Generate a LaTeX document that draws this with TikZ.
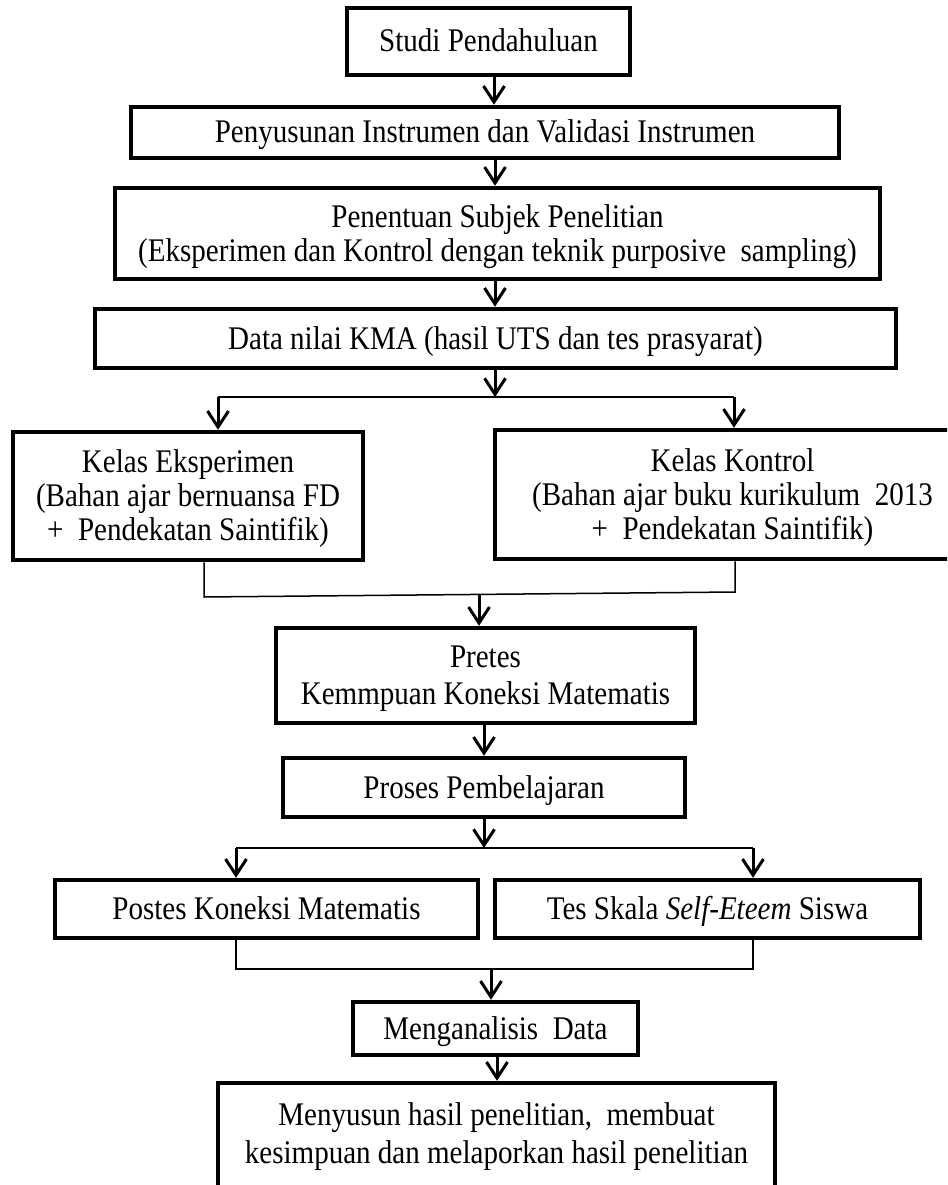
\documentclass[tikz,border=0pt]{standalone}
\usepackage{fontspec}
\setmainfont{Liberation Serif}[FakeStretch=0.88]
\usetikzlibrary{arrows.meta}
\newcommand\topstrut{\rule{0pt}{29pt}}
\newcommand\botstrut{\rule[-8pt]{0pt}{8pt}}
\newcommand\deepstrut{\rule[-32pt]{0pt}{32pt}}
\begin{document}
\begin{tikzpicture}[x=1pt,y=-1pt,
  box/.style={draw, line width=4.5pt, inner sep=0pt, align=center,
              font=\fontsize{33}{34}\selectfont},
  arr/.style={line width=3pt, -{Straight Barb[length=16pt,width=21pt,line width=3pt]}},
  thinline/.style={line width=1.5pt}]
\useasboundingbox (0,0) rectangle (947,1185);
\clip (0,0) rectangle (947,1185);

\node[box, minimum width=283pt, minimum height=67pt] (studi) at (488.5,41.5) {\topstrut Studi Pendahuluan\botstrut};
\node[box, minimum width=708pt, minimum height=51pt] (penyus) at (485,132.5) {\topstrut Penyusunan Instrumen dan Validasi Instrumen\botstrut};
\node[box, minimum width=765pt, minimum height=91pt] (penent) at (497.5,233.5) {\topstrut Penentuan Subjek Penelitian\\(Eksperimen dan Kontrol dengan teknik purposive\ \ sampling)\botstrut};
\node[box, minimum width=801pt, minimum height=59pt] (data) at (495.5,338.5) {\topstrut Data nilai KMA (hasil UTS dan tes prasyarat)\botstrut};
\node[box, minimum width=350pt, minimum height=128pt] (eksp) at (188,496) {\topstrut Kelas Eksperimen\\(Bahan ajar bernuansa FD\\+\ \ Pendekatan Saintifik)\botstrut};
\node[box, minimum width=475pt, minimum height=129pt] (kontrol) at (732.5,494.5) {\topstrut Kelas Kontrol\\(Bahan ajar buku kurikulum\ \ 2013\\+\ \ Pendekatan Saintifik)\botstrut};
\node[box, minimum width=419pt, minimum height=95pt, font=\fontsize{33}{37}\selectfont] (pretes) at (485.5,675.5) {\topstrut Pretes\\Kemmpuan Koneksi Matematis\botstrut};
\node[box, minimum width=402pt, minimum height=59pt] (proses) at (484,787.5) {\topstrut Proses Pembelajaran\botstrut};
\node[box, minimum width=423pt, minimum height=58pt] (postes) at (266.5,909) {\topstrut Postes Koneksi Matematis\botstrut};
\node[box, minimum width=425pt, minimum height=58pt] (tes) at (707.5,909) {\topstrut Tes Skala \textit{Self-Eteem} Siswa\botstrut};
\node[box, minimum width=285pt, minimum height=53pt] (mengan) at (495.5,1028.5) {\topstrut Menganalisis\ \ Data\botstrut};
\node[box, minimum width=557pt, minimum height=125pt, font=\fontsize{33}{38}\selectfont] (menyus) at (496.5,1145.5) {\topstrut Menyusun hasil penelitian,\ \ membuat\\kesimpuan dan melaporkan hasil penelitian\deepstrut};

% columns
\coordinate (x1) at (494,0);
\coordinate (x2) at (495,0);
\coordinate (x3) at (484,0);
\coordinate (x4) at (497,0);

\draw[arr] (studi.south -| x1) -- (penyus.north -| x1);
\draw[arr] (penyus.south -| x2) -- (penent.north -| x2);
\draw[arr] (penent.south -| x2) -- (data.north -| x2);

% branch 1
\coordinate (j1) at (495,397);
\coordinate (j1l) at (218,397);
\coordinate (j1r) at (734,397);
\draw[arr] (data.south -| j1) -- (j1);
\draw[thinline] (j1l) -- (j1r);
\draw[arr] (j1l) -- (eksp.north -| j1l);
\draw[arr] (j1r) -- (kontrol.north -| j1r);

% merge 1
\coordinate (m1l) at (204,597);
\coordinate (m1r) at (735,592);
\coordinate (m1) at (479,595);
\draw[thinline] (eksp.south -| m1l) -- (m1l) -- (m1r) -- (kontrol.south -| m1r);
\draw[arr] (m1) -- (pretes.north -| m1);

\draw[arr] (pretes.south -| x3) -- (proses.north -| x3);

% branch 2
\coordinate (j2) at (484,848);
\coordinate (j2l) at (236,848);
\coordinate (j2r) at (753,848);
\draw[arr] (proses.south -| j2) -- (j2);
\draw[thinline] (j2l) -- (j2r);
\draw[arr] (j2l) -- (postes.north -| j2l);
\draw[arr] (j2r) -- (tes.north -| j2r);

% merge 2
\coordinate (m2l) at (236,969);
\coordinate (m2r) at (753,969);
\coordinate (m2) at (491,969);
\draw[thinline] (postes.south -| m2l) -- (m2l) -- (m2r) -- (tes.south -| m2r);
\draw[arr] (m2) -- (mengan.north -| m2);

\draw[arr] (mengan.south -| x4) -- (menyus.north -| x4);
\end{tikzpicture}
\end{document}
